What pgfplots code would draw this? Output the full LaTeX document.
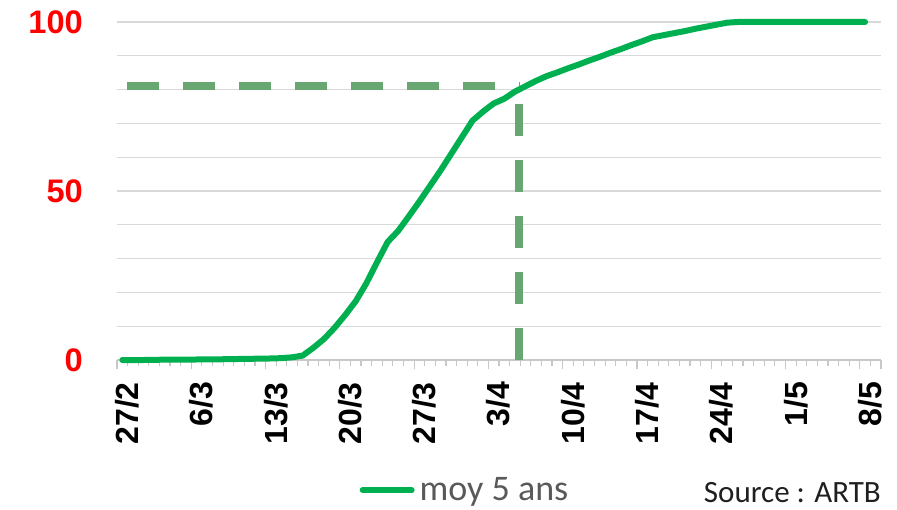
\documentclass[border=0pt]{standalone}
\usepackage{pgfplots}
\pgfplotsset{compat=1.18}
\usepackage{pgfplotstable}
\usepackage{fontspec}
\setmainfont{Liberation Sans}
\newfontfamily\calibri{Carlito}
\newfontfamily\arialbold{Liberation Sans Bold}
\definecolor{lgreen}{HTML}{00B050}
\definecolor{dgreen}{HTML}{68A672}
\definecolor{gridgray}{HTML}{D9D9D9}
\definecolor{axgray}{HTML}{C8C8C8}
\definecolor{leggray}{HTML}{595959}
\pgfplotstableread{
day val
0 0
1 0
2 0
3 0.05
4 0.1
5 0.1
6 0.1
7 0.15
8 0.2
9 0.2
10 0.25
11 0.3
12 0.35
13 0.4
14 0.45
15 0.55
16 0.8
17 1.3
18 3.6
19 6.2
20 9.5
21 13.3
22 17.4
23 22.7
24 28.9
25 34.9
26 38.2
27 42.5
28 46.9
29 51.5
30 56.1
31 61.0
32 65.9
33 70.8
34 73.5
35 75.9
36 77.3
37 79.4
38 81.0
39 82.6
40 84.0
41 85.1
42 86.3
43 87.4
44 88.6
45 89.7
46 90.9
47 92.0
48 93.2
49 94.3
50 95.5
51 96.1
52 96.7
53 97.3
54 98.0
55 98.6
56 99.2
57 99.8
58 100
59 100
60 100
61 100
62 100
63 100
64 100
65 100
66 100
67 100
68 100
69 100
70 100
}\datatable
\begin{document}
\begin{tikzpicture}[x=1pt,y=1pt]
\useasboundingbox (0,0) rectangle (897,509);
\begin{axis}[
  anchor=south west, at={(117pt,149pt)},
  scale only axis, width=764pt, height=338pt,
  xmin=-0.5, xmax=71.5, ymin=0, ymax=100,
  clip=false,
  axis x line*=bottom, axis y line*=left,
  x axis line style={draw=axgray, line width=1.3pt, -},
  y axis line style={draw=none},
  tick align=outside,
  xtick={-0.5,6.5,...,69.5,71.5},
  xticklabels={},
  major tick length=9pt,
  minor tick length=5.7pt,
  minor xtick={-0.5,0.5,...,71.5},
  x tick style={draw=axgray, line width=1.2pt},
  extra x ticks={0,7,...,70},
  extra x tick labels={27/2,6/3,13/3,20/3,27/3,3/4,10/4,17/4,24/4,1/5,8/5},
  extra x tick style={major tick length=0pt, tick style={draw=none}},
  xticklabel style={font=\arialbold\fontsize{32}{36}\selectfont, rotate=90, anchor=east, inner sep=0pt, xshift=-22pt, yshift=-5pt},
  ytick={0,50,100},
  minor ytick={10,20,30,40,60,70,80,90},
  y tick style={draw=none},
  ymajorgrids, yminorgrids,
  major grid style={draw=gridgray, line width=1.2pt},
  minor grid style={draw=gridgray, line width=1.2pt},
  /pgf/number format/assume math mode=true,
  yticklabel style={font=\arialbold\fontsize{32.6}{36}\selectfont, text=red, anchor=east, inner sep=0pt, xshift=-25pt},
  legend style={at={(rel axis cs:0.3137,-0.385)}, anchor=west, draw=none, fill=none,
    inner sep=0pt, outer sep=0pt, font=\calibri\fontsize{36}{42}\selectfont, text=leggray,
    cells={anchor=west, inner sep=0pt}},
  legend image code/.code={\path (0pt,0pt) (55pt,0pt); \draw[#1, line width=6pt, line cap=round] (3pt,0pt) -- (52pt,0pt);},
]
\addplot[dgreen, line width=8pt, dash pattern=on 32pt off 24pt, forget plot] coordinates {(0.45,81) (37.4,81)};
\addplot[dgreen, line width=8pt, dash pattern=on 32pt off 24pt, forget plot] coordinates {(37.4,0) (37.4,81)};
\addplot[lgreen, line width=6pt, line cap=round, line join=round] table[x=day, y=val] {\datatable};
\addlegendentry{moy 5 ans}
\end{axis}
\node[anchor=base east, inner sep=0pt, font=\calibri\fontsize{31}{36}\selectfont, text=black!88] at (881,7) {Source : ARTB};
\end{tikzpicture}
\end{document}
